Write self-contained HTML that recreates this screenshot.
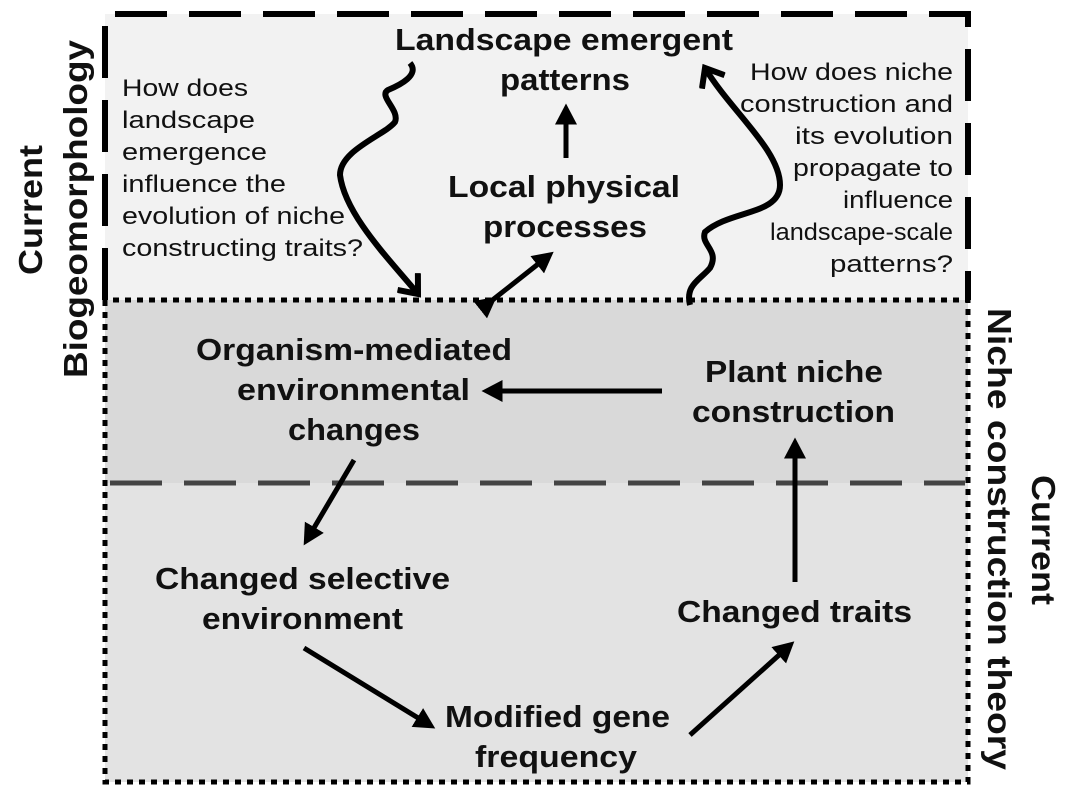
<!DOCTYPE html>
<html><head><meta charset="utf-8"><style>
body{margin:0;background:#fff}
svg{display:block}
text{font-family:"Liberation Sans",Arial,Helvetica,sans-serif;fill:#111}
.b{font-weight:bold;font-size:31px}
.t{font-weight:bold;font-size:33px}
.q{font-size:24px}
</style></head><body>
<svg width="1066" height="800" viewBox="0 0 1066 800">
<defs><marker id="ah" markerWidth="5" markerHeight="5" refX="2.5" refY="2.5" orient="auto" markerUnits="strokeWidth"><path d="M0,0.3 L4.2,2.5 L0,4.7 Z" fill="#000"/></marker>
<marker id="ch" markerWidth="5" markerHeight="5" refX="3" refY="2.5" orient="auto" markerUnits="strokeWidth"><path d="M0.3,0.3 L3,2.5 L0.3,4.7" fill="none" stroke="#000" stroke-width="1"/></marker></defs>
<rect x="105" y="14" width="863" height="286" fill="#f2f2f2"/>
<rect x="105" y="300" width="863" height="183" fill="#d9d9d9"/>
<rect x="105" y="483" width="863" height="299" fill="#e3e3e3"/>
<path d="M105,300 V14 H968 V300" fill="none" stroke="#000" stroke-width="6" stroke-dasharray="52,22"/>
<path d="M105,300 V782 H968 V300 H105" fill="none" stroke="#000" stroke-width="5" stroke-dasharray="6,6"/>
<line x1="110" y1="483" x2="965" y2="483" stroke="#444" stroke-width="5" stroke-dasharray="52,22"/>
<g class="b">
<g>
<text x="395" y="50" textLength="338" lengthAdjust="spacingAndGlyphs">Landscape emergent</text>
<text x="500" y="90" textLength="130" lengthAdjust="spacingAndGlyphs">patterns</text></g>
<g>
<text x="448" y="197" textLength="232" lengthAdjust="spacingAndGlyphs">Local physical</text>
<text x="483" y="237" textLength="164" lengthAdjust="spacingAndGlyphs">processes</text></g>
<g>
<text x="196" y="360" textLength="316" lengthAdjust="spacingAndGlyphs">Organism-mediated</text>
<text x="237" y="400" textLength="233" lengthAdjust="spacingAndGlyphs">environmental</text>
<text x="288" y="440" textLength="132" lengthAdjust="spacingAndGlyphs">changes</text></g>
<g>
<text x="705" y="382" textLength="178" lengthAdjust="spacingAndGlyphs">Plant niche</text>
<text x="692" y="422" textLength="203" lengthAdjust="spacingAndGlyphs">construction</text></g>
<g>
<text x="155" y="589" textLength="295" lengthAdjust="spacingAndGlyphs">Changed selective</text>
<text x="202" y="629" textLength="201" lengthAdjust="spacingAndGlyphs">environment</text></g>
<text x="677" y="622" textLength="235" lengthAdjust="spacingAndGlyphs">Changed traits</text>
<g>
<text x="445" y="727" textLength="225" lengthAdjust="spacingAndGlyphs">Modified gene</text>
<text x="475" y="767" textLength="162" lengthAdjust="spacingAndGlyphs">frequency</text></g>
</g>
<text class="q"><tspan x="122" y="96" textLength="126" lengthAdjust="spacingAndGlyphs">How does</tspan><tspan x="122" y="128" textLength="133" lengthAdjust="spacingAndGlyphs">landscape</tspan><tspan x="122" y="160" textLength="145" lengthAdjust="spacingAndGlyphs">emergence</tspan><tspan x="122" y="192" textLength="164" lengthAdjust="spacingAndGlyphs">influence the</tspan><tspan x="122" y="224" textLength="223" lengthAdjust="spacingAndGlyphs">evolution of niche</tspan><tspan x="122" y="256" textLength="241" lengthAdjust="spacingAndGlyphs">constructing traits?</tspan></text>
<g class="q">
<text x="750" y="80" textLength="203" lengthAdjust="spacingAndGlyphs">How does niche</text>
<text x="740" y="112" textLength="213" lengthAdjust="spacingAndGlyphs">construction and</text>
<text x="795" y="144" textLength="158" lengthAdjust="spacingAndGlyphs">its evolution</text>
<text x="793" y="176" textLength="160" lengthAdjust="spacingAndGlyphs">propagate to</text>
<text x="843" y="208" textLength="110" lengthAdjust="spacingAndGlyphs">influence</text>
<text x="770" y="240" textLength="183" lengthAdjust="spacingAndGlyphs">landscape-scale</text>
<text x="830" y="272" textLength="123" lengthAdjust="spacingAndGlyphs">patterns?</text></g>
<text class="t" transform="translate(42,275) rotate(-90)" textLength="130" lengthAdjust="spacingAndGlyphs">Current</text>
<text class="t" transform="translate(87,378) rotate(-90)" textLength="338" lengthAdjust="spacingAndGlyphs">Biogeomorphology</text>
<text class="t" transform="translate(988,308) rotate(90)" textLength="462" lengthAdjust="spacingAndGlyphs">Niche construction theory</text>
<text class="t" transform="translate(1032,475) rotate(90)" textLength="130" lengthAdjust="spacingAndGlyphs">Current</text>
<g stroke="#000" stroke-width="5" fill="none">
<line x1="566" y1="158" x2="566" y2="112" marker-end="url(#ah)"/>
<line x1="490" y1="302" x2="547" y2="257" marker-end="url(#ah)" marker-start="url(#ah)"/>
<line x1="662" y1="391" x2="490" y2="391" marker-end="url(#ah)"/>
<line x1="354" y1="460" x2="308" y2="538" marker-end="url(#ah)"/>
<line x1="304" y1="648" x2="428" y2="724" marker-end="url(#ah)"/>
<line x1="690" y1="735" x2="788" y2="647" marker-end="url(#ah)"/>
<line x1="795" y1="582" x2="795" y2="446" marker-end="url(#ah)"/>
<path d="M410,63 C420,75 400,85 388,90 C378,96 400,110 395,122 C385,135 340,150 340,175 C345,215 390,260 418,294" stroke-width="6" marker-end="url(#ch)"/>
<path d="M690,305 C685,285 700,280 710,268 C720,250 700,245 705,232 C730,210 780,215 780,185 C780,150 730,110 705,68" stroke-width="6" marker-end="url(#ch)"/>
</g>
</svg>
</body></html>
